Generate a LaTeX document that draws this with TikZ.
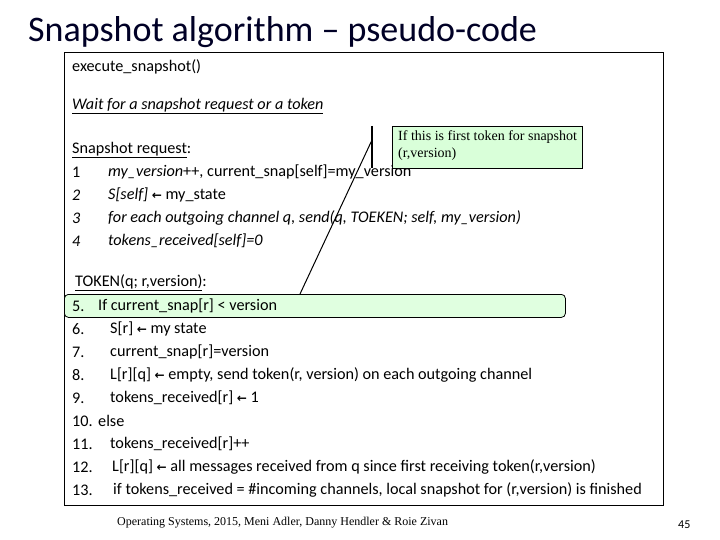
\documentclass[tikz,border=0pt]{standalone}
\usepackage{fontspec}
\setmainfont{Carlito}
\newfontfamily\serif{Liberation Serif}
\newfontfamily\dv{DejaVu Sans}
\newcommand{\la}{{\dv\bfseries\fontsize{12}{12}\selectfont\char"2190}}
\begin{document}
\begin{tikzpicture}[x=1pt,y=-1pt,
 t/.style={anchor=west,inner sep=0pt,font=\fontsize{16.2}{18}\selectfont}]
\useasboundingbox (0,0) rectangle (720,540);
\fill[white] (0,0) rectangle (720,540);
\node[anchor=west,inner sep=0pt,font=\fontsize{36}{38}\selectfont,text=black!85!blue] (title) at (28,32) {Snapshot algorithm -- pseudo-code};
\draw[line width=0.8pt] (64,52) rectangle (663,505);
\node[t] (a) at (72,67) {execute\_snapshot()};
\node[t] (b) at (72,106) {\underline{\itshape Wait for a snapshot request or a token}};
\node[t] (c) at (72,150) {\underline{Snapshot request}:};
\node[t] (n1) at (72,172) {1};
\node[t] (l1) at (108,172) {{\itshape my\_version}++, current\_snap[self]=my\_version};
\node[t] (n2) at (72,195) {\itshape 2};
\node[t] (l2) at (108,195) {{\itshape S[self]} \la{} my\_state};
\node[t] (n3) at (72,218) {\itshape 3};
\node[t] (l3) at (108,218) {\itshape for each outgoing channel q, send(q, TOEKEN; self, my\_version)};
\node[t] (n4) at (72,241) {\itshape 4};
\node[t] (l4) at (108,241) {\itshape tokens\_received[self]=0};
\node[t] (tok) at (75,283) {\underline{TOKEN(q; r,version)}:};
\node[draw,thick,fill=green!12,rounded corners=4pt,minimum width=501,minimum height=23,anchor=north west,inner sep=0pt] (g5) at (64,294) {};
\node[t] (m5) at (72,306) {5.};  \node[t] (k5) at (98,306) {If current\_snap[r] < version};
\node[t] (m6) at (72,329) {6.};  \node[t] (k6) at (110,329) {S[r] \la{} my state};
\node[t] (m7) at (72,352) {7.};  \node[t] (k7) at (110,352) {current\_snap[r]=version};
\node[t] (m8) at (72,375) {8.};  \node[t] (k8) at (110,375) {L[r][q] \la{} empty, send token(r, version) on each outgoing channel};
\node[t] (m9) at (72,398) {9.};  \node[t] (k9) at (110,398) {tokens\_received[r] \la{} 1};
\node[t] (m10) at (72,421) {10.}; \node[t] (k10) at (98,421) {else};
\node[t] (m11) at (72,444) {11.}; \node[t] (k11) at (110,444) {tokens\_received[r]++};
\node[t] (m12) at (72,467) {12.}; \node[t] (k12) at (112,467) {L[r][q] \la{} all messages received from q since first receiving token(r,version)};
\node[t] (m13) at (72,490) {13.}; \node[t] (k13) at (113,490) {if tokens\_received = \#incoming channels, local snapshot for (r,version) is finished};
\node[draw,line width=1.2pt,fill=green!15,anchor=north west,minimum width=190,minimum height=42,inner sep=0pt] (call) at (392,126) {};
\node[anchor=north west,inner sep=0pt,align=left,font=\serif\fontsize{14}{17}\selectfont] (ct) at (398,130) {If this is first token for snapshot\\(r,version)};
\coordinate (v1) at (372,126); \coordinate (v2) at (372,168);
\draw[line width=1.2pt] (v1) -- (v2);
\coordinate (s1) at (372,140); \coordinate (s2) at (300,294);
\draw[line width=1pt] (s1) -- (s2);
\node[anchor=west,inner sep=0pt,font=\serif\fontsize{12}{14}\selectfont] (foot) at (117,523) {Operating Systems, 2015, Meni Adler, Danny Hendler \& Roie Zivan};
\node[anchor=west,inner sep=0pt,font=\fontsize{12}{14}\selectfont] (pg) at (678,525) {45};
\end{tikzpicture}
\end{document}
